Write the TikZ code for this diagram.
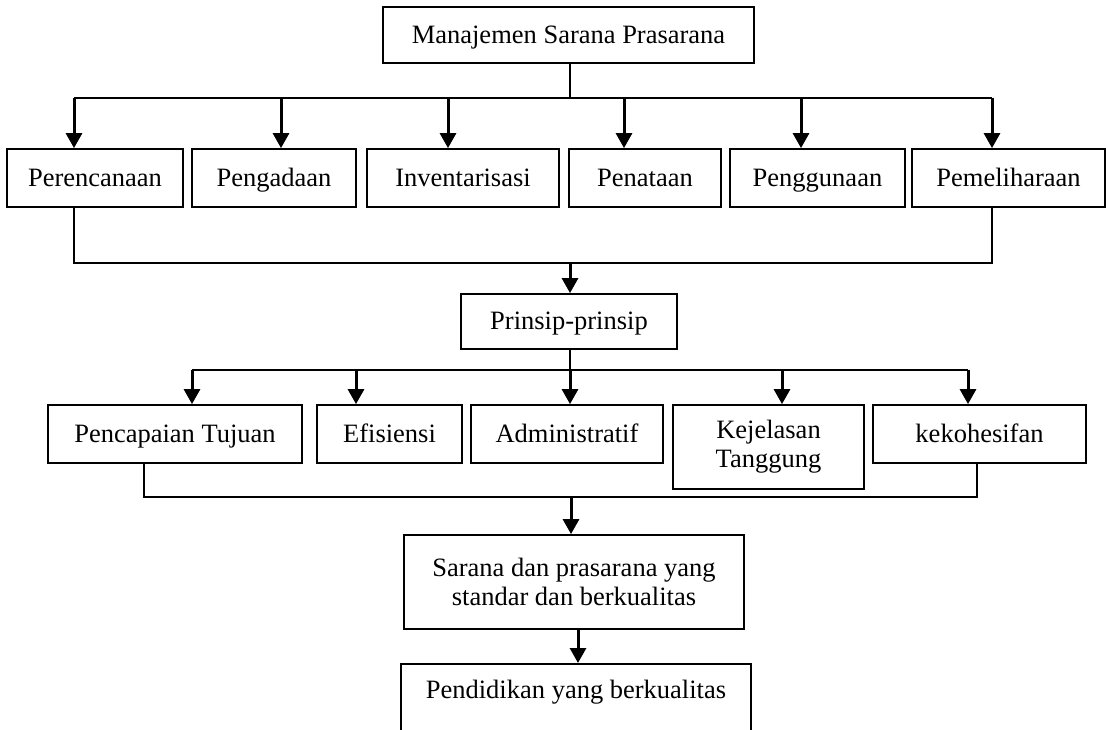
\documentclass[tikz,border=0pt]{standalone}
\usepackage{fontspec}
\setmainfont{Liberation Serif}
\usetikzlibrary{arrows.meta,positioning}
\tikzset{
  basic/.style = {draw, line width=1.8pt, rectangle, inner sep=2pt,
                  font=\fontsize{26.5}{29}\selectfont},
  unit/.style  = {basic, minimum height=58pt, text height=17pt, text depth=1pt},
  multi/.style = {basic, align=center},
  link/.style  = {line width=1.7pt},
  flow/.style  = {line width=3pt, -{Triangle[width=16pt,length=15pt]}}
}
\begin{document}
\begin{tikzpicture}[x=1pt,y=-1pt]
\useasboundingbox (0,0) rectangle (1108,729);
% top
\node[unit, minimum width=371pt, minimum height=56pt] (msp) at (568.5,35) {Manajemen Sarana Prasarana};
% fungsi
\node[unit, minimum width=176pt] (per) at (95,178)    {Perencanaan};
\node[unit, minimum width=164pt] (ada) at (274,178)   {Pengadaan};
\node[unit, minimum width=192pt] (inv) at (463,178)   {Inventarisasi};
\node[unit, minimum width=152pt] (tat) at (645,178)   {Penataan};
\node[unit, minimum width=175pt] (gun) at (817.5,178) {Penggunaan};
\node[unit, minimum width=193pt] (pel) at (1008.5,178) {Pemeliharaan};
\coordinate (b1) at (570,98);
\draw[link] (msp.south -| b1) -- (b1);
\draw[link] (b1 -| 74,0) -- (b1 -| 992,0);
\foreach \n/\x in {per/74, ada/281, inv/448, tat/624, gun/801, pel/992}
  \draw[flow] (b1 -| \x,0) -- (\n.north -| \x,0);
% prinsip
\node[unit, minimum width=216pt, minimum height=55pt] (pri) at (569,321.5) {Prinsip-prinsip};
\coordinate (b2) at (570,263);
\draw[link] (per.south -| 74,0) |- (b2) -| (pel.south -| 992,0);
\draw[flow] (b2) -- (pri.north -| b2);
\node[unit, minimum width=254pt] (tuj) at (175,434)   {Pencapaian Tujuan};
\node[unit, minimum width=145pt] (efi) at (389.5,434) {Efisiensi};
\node[unit, minimum width=192pt] (adm) at (567,434)   {Administratif};
\node[multi, minimum width=191pt, minimum height=84pt] (kej) at (768.5,447) {Kejelasan\\Tanggung};
\node[unit, minimum width=213pt] (koh) at (979.5,434) {kekohesifan};
\coordinate (b3) at (570,370);
\draw[link] (pri.south -| b3) -- (b3);
\draw[link] (b3 -| 192,0) -- (b3 -| 968,0);
\foreach \n/\x in {tuj/192, efi/356, adm/570, kej/782, koh/968}
  \draw[flow] (b3 -| \x,0) -- (\n.north -| \x,0);
% hasil
\node[multi, minimum width=340pt, minimum height=94pt] (sar) at (574,582) {Sarana dan prasarana yang\\standar dan berkualitas};
\coordinate (b4) at (571,497);
\draw[link] (tuj.south -| 144,0) |- (b4) -| (koh.south -| 977,0);
\draw[flow] (b4) -- (sar.north -| b4);
\node[basic, minimum width=350pt, anchor=north, text height=17pt, text depth=52pt, inner ysep=18pt] (pen) at (576,663) {Pendidikan yang berkualitas};
\draw[flow] (sar.south -| 578,0) -- (pen.north -| 578,0);
\end{tikzpicture}
\end{document}
